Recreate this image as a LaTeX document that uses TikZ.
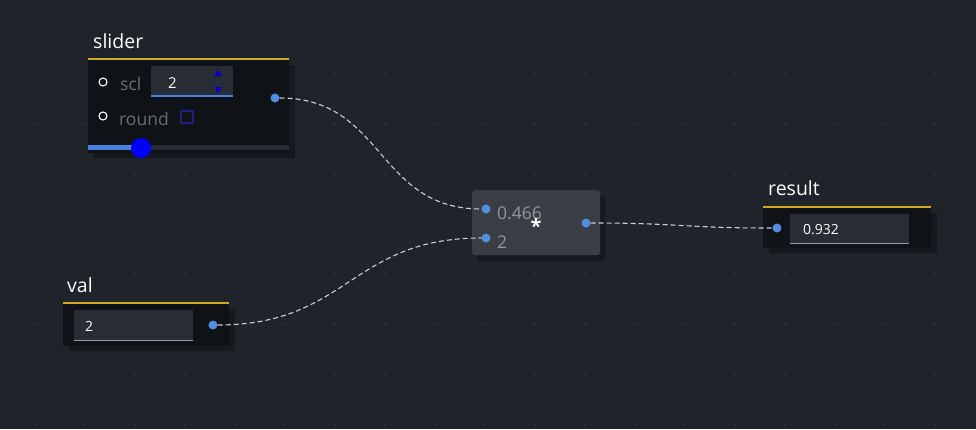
\documentclass[tikz,border=0pt]{standalone}
\usepackage{fontspec}
\setmainfont{Open Sans}
\usetikzlibrary{positioning}

\definecolor{bgcol}{RGB}{31,35,42}
\definecolor{dotcol}{RGB}{52,56,64}
\definecolor{bodycol}{RGB}{15,18,23}
\definecolor{headcol}{RGB}{214,168,30}
\definecolor{fieldcol}{RGB}{40,44,52}
\definecolor{fieldline}{RGB}{150,155,165}
\definecolor{bluecol}{RGB}{74,128,226}
\definecolor{portcol}{RGB}{82,142,222}
\definecolor{dimtext}{RGB}{108,110,116}
\definecolor{opcol}{RGB}{58,61,68}
\definecolor{optext}{RGB}{148,150,156}
\definecolor{wirecol}{RGB}{205,205,210}
\definecolor{checkcol}{RGB}{30,32,130}

\tikzset{
  body/.style={fill=bodycol, anchor=north west, inner sep=0},
  shadow/.style={fill=black, opacity=0.3, anchor=north west, inner sep=0},
  title/.style={anchor=base west, text=white, font=\fontsize{19.5}{22}\selectfont, inner sep=0},
  field/.style={fill=fieldcol, anchor=north west, inner sep=0},
  fieldtext/.style={anchor=base west, text=white, font=\fontsize{14}{16}\selectfont, inner sep=0},
  dimlabel/.style={anchor=base west, text=dimtext, font=\fontsize{17.5}{19}\selectfont, inner sep=0},
  port/.style={circle, fill=portcol, minimum size=9, inner sep=0},
  ring/.style={circle, draw=white, line width=1.1, minimum size=8, inner sep=0},
  wire/.style={draw=wirecol, dash pattern=on 5pt off 3pt, line width=1.1}
}

\begin{document}
\begin{tikzpicture}[x=1pt,y=-1pt]
  \useasboundingbox[fill=bgcol] (0,0) rectangle (976,429);
  %grid dots
  \foreach \x in {35,85,...,985}{
    \foreach \y in {24,74,...,424}{
      \fill[dotcol] (\x,\y) circle (1.1);
    }
  }

  %slider node
  \node[shadow, minimum width=201, minimum height=93] at (94,65) {};
  \node[body, minimum width=201, minimum height=93] (sliderbox) at (88,60) {};
  \draw[headcol, line width=2.5] (88,59) -- (289,59);
  \node[title] (slidertitle) at (93,48) {slider};
  \node[ring] (sclring) at (103,82) {};
  \node[dimlabel] (scllabel) at (120,90) {scl};
  \node[field, minimum width=82, minimum height=31] (sclfield) at (151,66) {};
  \draw[bluecol, line width=1.8] (151,96) -- (233,96);
  \node[fieldtext, font=\fontsize{15}{17}\selectfont] (sclvalue) at (168,88) {2};
  \fill[blue!80!black] (214,76) -- (222,76) -- (218,70) -- cycle;
  \fill[blue!80!black] (214,87) -- (222,87) -- (218,93) -- cycle;
  \node[ring] (roundring) at (103,116) {};
  \node[dimlabel] (roundlabel) at (119,125) {round};
  \draw[checkcol, line width=1.2] (181,111) rectangle (193,123);
  \fill[fieldcol] (88,145) rectangle (289,150);
  \fill[bluecol] (88,145) rectangle (141,150);
  \fill[blue] (141,148) circle (10);
  \node[port] (sliderout) at (275,98) {};

  %val node
  \node[shadow, minimum width=166, minimum height=42] at (69,309) {};
  \node[body, minimum width=166, minimum height=42] (valbox) at (63,304) {};
  \draw[headcol, line width=2.5] (63,303) -- (229,303);
  \node[title] (valtitle) at (67,292) {val};
  \node[field, minimum width=119, minimum height=30] (valfield) at (74,310) {};
  \draw[fieldline, line width=1] (74,340) -- (193,340);
  \node[fieldtext] (valvalue) at (85,331) {2};
  \node[port] (valout) at (213,325) {};

  %multiply node
  \node[shadow, minimum width=128, minimum height=65, rounded corners=3] at (477,196) {};
  \node[fill=opcol, anchor=north west, inner sep=0, minimum width=128, minimum height=65, rounded corners=3] (mulbox) at (472,190) {};
  \node[port] (mulinA) at (486,209) {};
  \node[port] (mulinB) at (486,238) {};
  \node[anchor=base west, text=optext, font=\fontsize{17.5}{19}\selectfont, inner sep=0] (mullabelA) at (497,219) {0.466};
  \node[anchor=base west, text=optext, font=\fontsize{17.5}{19}\selectfont, inner sep=0] (mullabelB) at (497,248) {2};
  \node[text=white, font=\bfseries\fontsize{20}{22}\selectfont, inner sep=0] (mulsign) at (536,226) {*};
  \node[port] (mulout) at (586,223) {};

  %result node
  \node[shadow, minimum width=168, minimum height=40] at (769,213) {};
  \node[body, minimum width=168, minimum height=40] (resultbox) at (763,208) {};
  \draw[headcol, line width=2.5] (763,207) -- (931,207);
  \node[title] (resulttitle) at (768,195) {result};
  \node[field, minimum width=119, minimum height=29] (resultfield) at (790,214) {};
  \draw[fieldline, line width=1] (790,243) -- (909,243);
  \node[fieldtext] (resultvalue) at (803,234) {0.932};
  \node[port] (resultin) at (777,228) {};

  %wires
  \draw[wire] (sliderout) .. controls +(110,0) and +(-110,0) .. (mulinA);
  \draw[wire] (valout) .. controls +(135,0) and +(-135,0) .. (mulinB);
  \draw[wire] (mulout) .. controls +(95,0) and +(-95,0) .. (resultin);
\end{tikzpicture}
\end{document}
